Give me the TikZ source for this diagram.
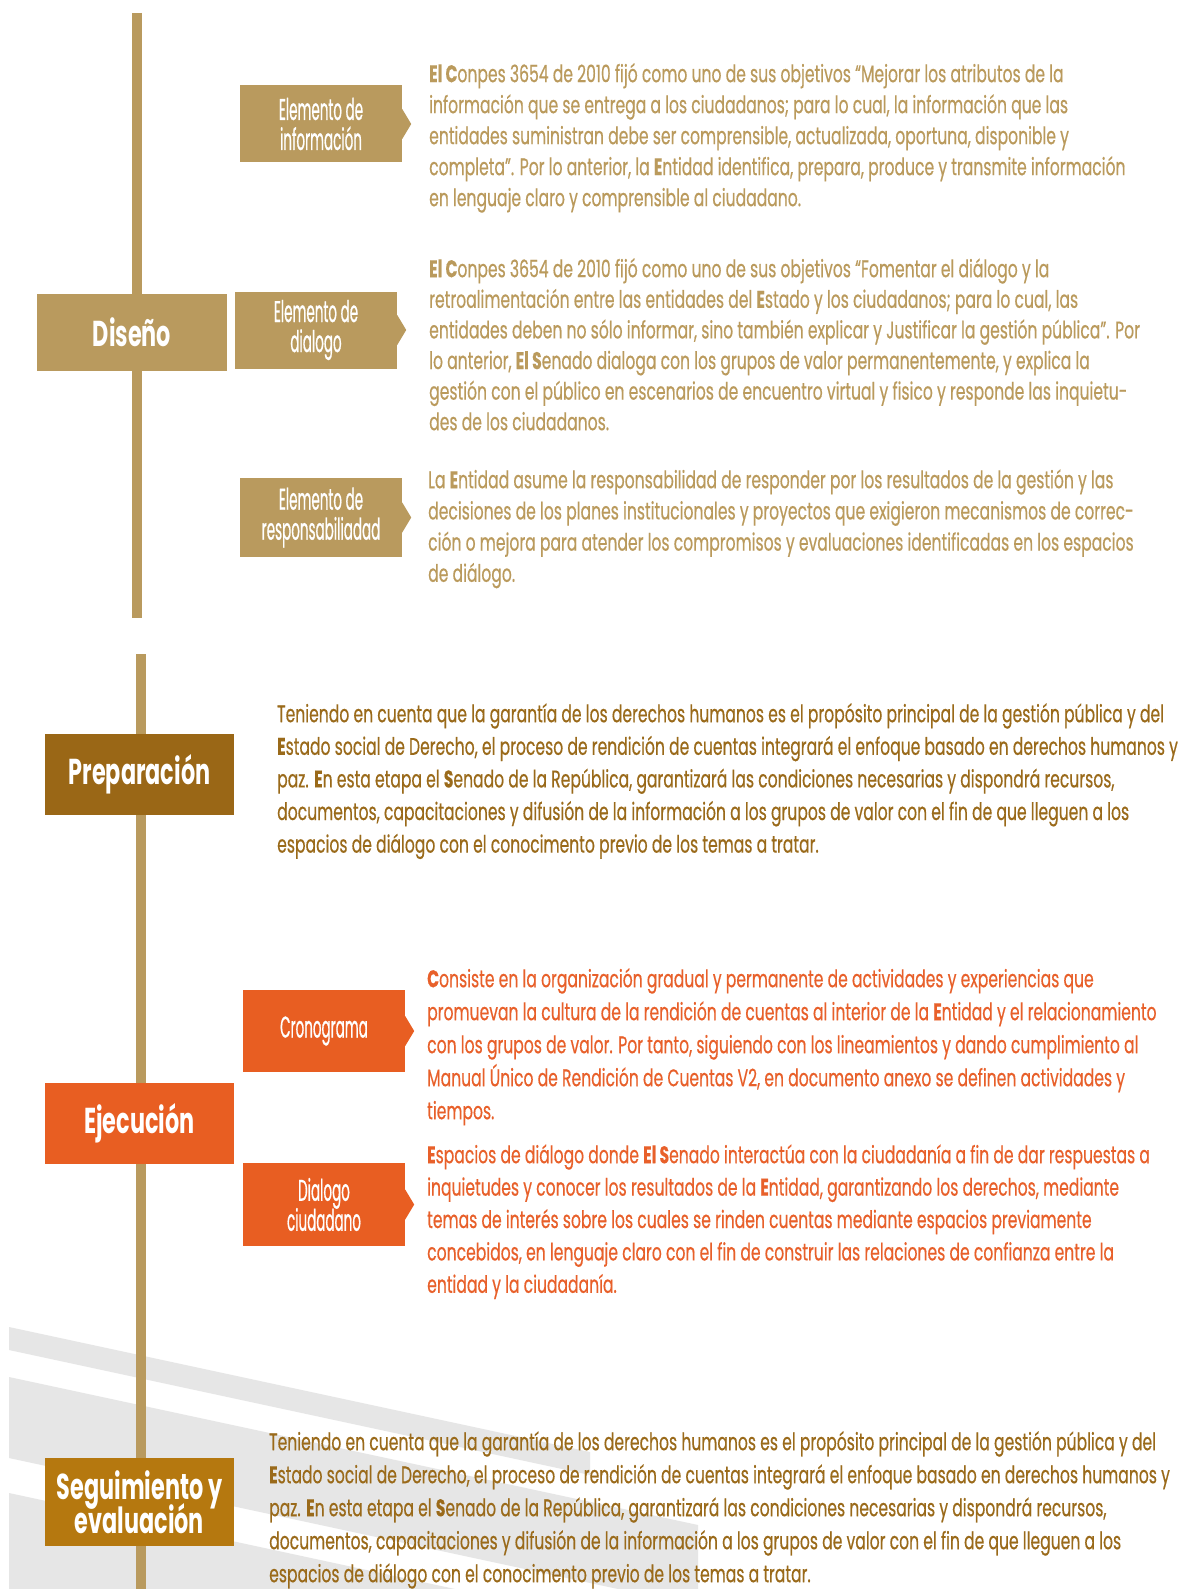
\documentclass[tikz,border=0pt]{standalone}
\usepackage{fontspec}
\setmainfont{Poppins}
\newfontfamily\bodyf{Poppins}[FakeStretch=0.65, FakeBold=0.4]
\newfontfamily\labf{Poppins}[FakeStretch=0.45, FakeBold=0.6]
\newfontfamily\stagef{Poppins}[FakeStretch=0.62]
\newcommand\tightls{\lineskiplimit=-40pt\relax\lineskip=0pt\relax}
\definecolor{gold}{HTML}{B99A5E}
\definecolor{txtgold}{HTML}{BA9A5C}
\definecolor{brown}{HTML}{9A6716}
\definecolor{brtxt}{HTML}{9A6A1A}
\definecolor{orng}{HTML}{E85E22}
\definecolor{ortxt}{HTML}{E8602A}
\definecolor{ochre}{HTML}{B5780F}
\definecolor{stripe}{HTML}{E6E6E6}
\begin{document}
\begin{tikzpicture}[x=1pt,y=-1pt,
  stagebox/.style={fill=#1, text=white, minimum width=189pt, minimum height=81pt, inner sep=0pt,
    font=\stagef\bfseries\fontsize{36}{34.5}\selectfont\tightls, align=center},
  elbox/.style={fill=#1, text=white, minimum width=162pt, minimum height=77pt, inner sep=0pt,
    font=\labf\fontsize{30}{30}\selectfont\tightls, align=center},
  para/.style={anchor=north west, inner sep=0pt, align=left},
  timeline/.style={draw=gold, line width=10pt}]
\useasboundingbox (0,0) rectangle (1184,1589);
\fill[white] (0,0) rectangle (1184,1589);
% background stripes
\fill[stripe] (9,1327) -- (590,1452) -- (590,1475) -- (9,1350) -- cycle;
\fill[stripe] (9,1377) -- (698,1525) -- (698,1589) -- (618,1589) -- (9,1458) -- cycle;
\fill[stripe] (9,1493) -- (455,1589) -- (9,1589) -- cycle;
% timelines
\coordinate (l1top) at (137,13);
\coordinate (l1bot) at (137,618);
\coordinate (l2top) at (141,654);
\coordinate (l2bot) at (141,1589);
\draw[timeline] (l1top) -- (l1bot);
\draw[timeline] (l2top) -- (l2bot);
% stage boxes
\node[stagebox=gold, minimum width=190pt, minimum height=77pt] (dis) at (132,332.5) {Diseño};
\node[stagebox=brown] (prep) at (139.5,774.5) {Preparación};
\node[stagebox=orng] (ejec) at (139.5,1123.5) {Ejecución};
\node[stagebox=ochre, minimum height=88pt] (seg) at (139.5,1502) {Seguimiento y\\evaluación};
% element boxes
\node[elbox=gold] (info) at (321,124) {Elemento de\\información};
\node[elbox=gold] (dial) at (316,330) {Elemento de\\dialogo};
\node[elbox=gold, minimum height=79pt] (resp) at (321,517.5) {Elemento de\\responsabiliadad};
\node[elbox=orng, minimum height=82pt] (cron) at (324,1031) {Cronograma};
\node[elbox=orng, minimum height=83pt] (dciu) at (324,1204.5) {Dialogo\\ciudadano};
\foreach \n/\c in {info/gold,dial/gold,resp/gold,cron/orng,dciu/orng}{
  \fill[\c] ([yshift=15pt]\n.east) -- ([xshift=9pt]\n.east) -- ([yshift=-15pt]\n.east) -- cycle;
}
% texts
\node[para, text=txtgold, font=\bodyf\fontsize{24}{31}\selectfont] (t1) at (429,58) {\rule{0pt}{24pt}\textbf{El C}onpes 3654 de 2010 fijó como uno de sus objetivos “Mejorar los atributos de la\\
información que se entrega a los ciudadanos; para lo cual, la información que las\\
entidades suministran debe ser comprensible, actualizada, oportuna, disponible y\\
completa”. Por lo anterior, la \textbf{E}ntidad identifica, prepara, produce y transmite información\\
en lenguaje claro y comprensible al ciudadano.};
\node[para, text=txtgold, font=\bodyf\fontsize{24}{30.6}\selectfont] (t2) at (429,253) {\rule{0pt}{24pt}\textbf{El C}onpes 3654 de 2010 fijó como uno de sus objetivos “Fomentar el diálogo y la\\
retroalimentación entre las entidades del \textbf{E}stado y los ciudadanos; para lo cual, las\\
entidades deben no sólo informar, sino también explicar y Justificar la gestión pública”. Por\\
lo anterior, \textbf{El S}enado dialoga con los grupos de valor permanentemente, y explica la\\
gestión con el público en escenarios de encuentro virtual y fisico y responde las inquietu-\\
des de los ciudadanos.};
\node[para, text=txtgold, font=\bodyf\fontsize{24}{31.2}\selectfont] (t3) at (428,464) {\rule{0pt}{24pt}La \textbf{E}ntidad asume la responsabilidad de responder por los resultados de la gestión y las\\
decisiones de los planes institucionales y proyectos que exigieron mecanismos de correc-\\
ción o mejora para atender los compromisos y evaluaciones identificadas en los espacios\\
de diálogo.};
\node[para, text=brtxt, font=\bodyf\fontsize{24}{32.6}\selectfont] (tp) at (277,697) {\rule{0pt}{25pt}Teniendo en cuenta que la garantía de los derechos humanos es el propósito principal de la gestión pública y del\\
\textbf{E}stado social de Derecho, el proceso de rendición de cuentas integrará el enfoque basado en derechos humanos y\\
paz. \textbf{E}n esta etapa el \textbf{S}enado de la República, garantizará las condiciones necesarias y dispondrá recursos,\\
documentos, capacitaciones y difusión de la información a los grupos de valor con el fin de que lleguen a los\\
espacios de diálogo con el conocimento previo de los temas a tratar.};
\node[para, text=ortxt, font=\bodyf\fontsize{24}{33}\selectfont] (tc) at (427,962) {\rule{0pt}{25pt}\textbf{C}onsiste en la organización gradual y permanente de actividades y experiencias que\\
promuevan la cultura de la rendición de cuentas al interior de la \textbf{E}ntidad y el relacionamiento\\
con los grupos de valor. Por tanto, siguiendo con los lineamientos y dando cumplimiento al\\
Manual Único de Rendición de Cuentas V2, en documento anexo se definen actividades y\\
tiempos.};
\node[para, text=ortxt, font=\bodyf\fontsize{24}{32.4}\selectfont] (td) at (427,1138) {\rule{0pt}{25pt}\textbf{E}spacios de diálogo donde \textbf{El S}enado interactúa con la ciudadanía a fin de dar respuestas a\\
inquietudes y conocer los resultados de la \textbf{E}ntidad, garantizando los derechos, mediante\\
temas de interés sobre los cuales se rinden cuentas mediante espacios previamente\\
concebidos, en lenguaje claro con el fin de construir las relaciones de confianza entre la\\
entidad y la ciudadanía.};
\node[para, text=brtxt, font=\bodyf\fontsize{24}{33}\selectfont] (ts) at (269,1425) {\rule{0pt}{25pt}Teniendo en cuenta que la garantía de los derechos humanos es el propósito principal de la gestión pública y del\\
\textbf{E}stado social de Derecho, el proceso de rendición de cuentas integrará el enfoque basado en derechos humanos y\\
paz. \textbf{E}n esta etapa el \textbf{S}enado de la República, garantizará las condiciones necesarias y dispondrá recursos,\\
documentos, capacitaciones y difusión de la información a los grupos de valor con el fin de que lleguen a los\\
espacios de diálogo con el conocimento previo de los temas a tratar.};
\end{tikzpicture}
\end{document}
